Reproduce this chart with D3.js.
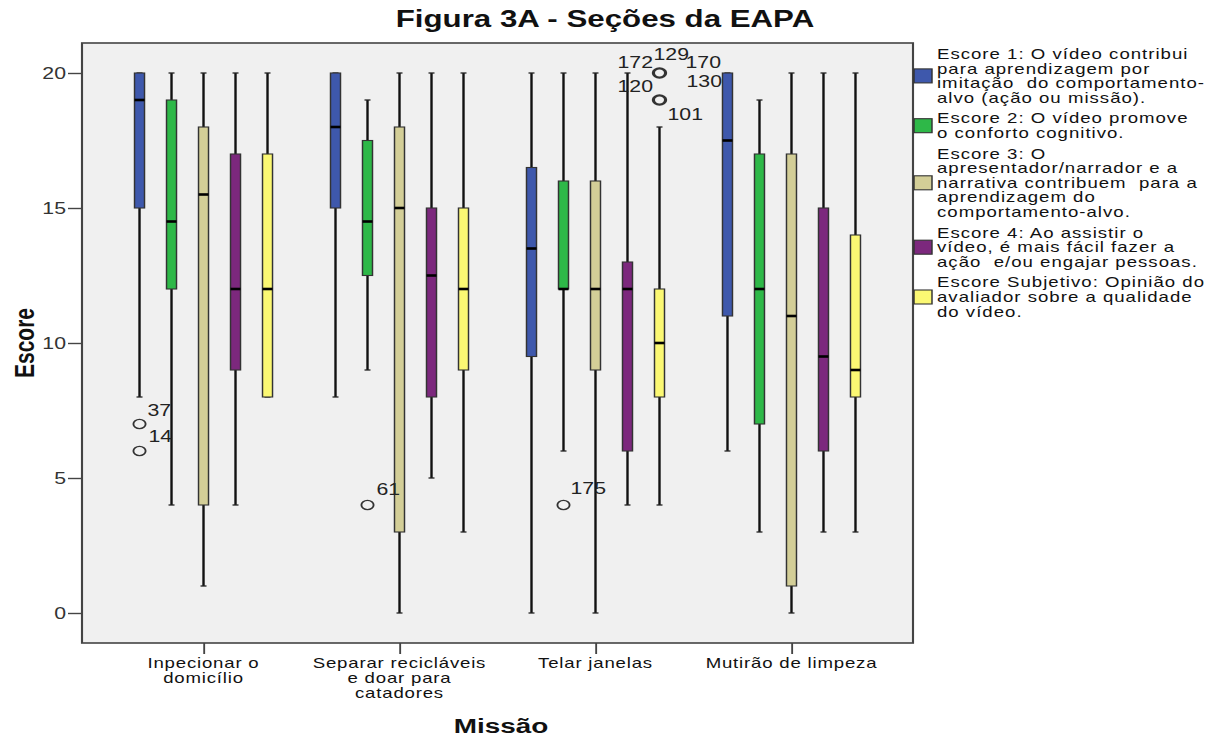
<!DOCTYPE html>
<html><head><meta charset="utf-8">
<script src="https://cdn.jsdelivr.net/npm/d3@7"></script>
<style>
body{margin:0;background:#fff}
text{font-family:Arial,"Liberation Sans",sans-serif;white-space:pre}
</style>
</head><body>
<svg id="c" width="1223" height="740"></svg>
<script>
// ---------- data ----------
const title = "Figura 3A - Seções da EAPA";
const xTitle = "Missão";
const yTitle = "Escore";
const categories = ["Inpecionar o domicílio","Separar recicláveis e doar para catadores","Telar janelas","Mutirão de limpeza"];
const categoryLines = [["Inpecionar o","domicílio"],["Separar recicláveis","e doar para","catadores"],["Telar janelas"],["Mutirão de limpeza"]];
const seriesNames = ["Escore 1","Escore 2","Escore 3","Escore 4","Escore Subjetivo"];
const seriesColors = ["#3E58AC","#2EB848","#D3CE97","#7C287D","#FBF873"];
// [min, Q1, median, Q3, max] per category
const escore1 = [[8,15,19,20,20],[8,15,18,20,20],[0,9.5,13.5,16.5,20],[6,11,17.5,20,20]];
const escore2 = [[4,12,14.5,19,20],[9,12.5,14.5,17.5,19],[6,12,12,16,20],[3,7,12,17,19]];
const escore3 = [[1,4,15.5,18,20],[0,3,15,18,20],[0,9,12,16,20],[0,1,11,17,20]];
const escore4 = [[4,9,12,17,20],[5,8,12.5,15,20],[4,6,12,13,20],[3,6,9.5,15,20]];
const escoreSubj = [[8,8,12,17,20],[3,9,12,15,20],[4,8,10,12,18],[3,8,9,14,20]];
const seriesValues = [escore1,escore2,escore3,escore4,escoreSubj];
const yTicks = [0,5,10,15,20];
// outliers: [category index, series index, value, case labels]
const outliers = [
  [0,0,7,["37"]],
  [0,0,6,["14"]],
  [1,1,4,["61"]],
  [2,1,4,["175"]],
  [2,4,20,["172","129","170","130"]],
  [2,4,19,["120","101"]]
];
const legendLines = [
  ["Escore 1: O vídeo contribui","para aprendizagem por","imitação  do comportamento-","alvo (ação ou missão)."],
  ["Escore 2: O vídeo promove","o conforto cognitivo."],
  ["Escore 3: O","apresentador/narrador e a","narrativa contribuem  para a","aprendizagem do","comportamento-alvo."],
  ["Escore 4: Ao assistir o","vídeo, é mais fácil fazer a","ação  e/ou engajar pessoas."],
  ["Escore Subjetivo: Opinião do","avaliador sobre a qualidade","do vídeo."]
];

// ---------- layout ----------
const S = 1.33; // horizontal stretch of the picture
const L = 82, T = 43, R = 913, B = 643;
// label offsets (image px) relative to outlier marker, keyed by case label
const labelOffsets = {"37":[8,-8],"14":[9,-9],"61":[9,-10],"175":[7,-11],
  "172":[-42,-5],"129":[-6,-13],"170":[26,-5],"130":[27,14],"120":[-42,-8],"101":[8,20]};

const svg = d3.select("#c");
svg.append("rect").attr("width",1223).attr("height",740).attr("fill","#fff");
const g = svg.append("g").attr("transform",`scale(${S},1)`);

const x0 = d3.scalePoint().domain(categories).range([L/S, R/S]).padding(0.62);
const x1 = d3.scalePoint().domain(seriesNames).range([-64/S, 64/S]);
const y = d3.scaleLinear().domain([0,20]).range([613,73]);

// frame
g.append("rect").attr("x",L/S).attr("y",T).attr("width",(R-L)/S).attr("height",B-T)
  .attr("fill","#f0f0f0").attr("stroke","#444").attr("stroke-width",1.6);

// y axis
const ya = g.append("g").attr("transform",`translate(${L/S},0)`)
  .call(d3.axisLeft(y).tickValues(yTicks).tickSize(14/S).tickPadding(2/S).tickFormat(d3.format("d")));
ya.select(".domain").remove();
ya.selectAll(".tick line").attr("stroke","#444").attr("stroke-width",1.4);
ya.selectAll(".tick text").attr("font-size",16).attr("fill","#333").attr("font-family","Arial, 'Liberation Sans', sans-serif");

// x axis
const xa = g.append("g").attr("transform",`translate(0,${B})`)
  .call(d3.axisBottom(x0).tickSize(11).tickFormat(""));
xa.select(".domain").remove();
xa.selectAll(".tick line").attr("stroke","#444").attr("stroke-width",1.4);
categories.forEach((c,i)=>{
  const t = g.append("text").attr("x",x0(c)).attr("y",668).attr("text-anchor","middle")
    .attr("font-size",14).attr("letter-spacing",0.6).attr("fill","#111");
  categoryLines[i].forEach((ln,k)=>{
    t.append("tspan").attr("x",x0(c)).attr("y",668+15*k).text(ln);
  });
});

// boxes
const bw = 10/S, cw = 6/S;
seriesNames.forEach((s,si)=>{
  categories.forEach((c,ci)=>{
    const [mn,q1,md,q3,mx] = seriesValues[si][ci];
    const cx = x0(c)+x1(s);
    const bx = g.append("g");
    bx.append("line").attr("x1",cx).attr("x2",cx).attr("y1",y(mn)).attr("y2",y(q1))
      .attr("stroke","#111").attr("stroke-width",1.8);
    bx.append("line").attr("x1",cx).attr("x2",cx).attr("y1",y(q3)).attr("y2",y(mx))
      .attr("stroke","#111").attr("stroke-width",1.8);
    [mn,mx].forEach(v=>{
      bx.append("line").attr("x1",cx-cw/2).attr("x2",cx+cw/2).attr("y1",y(v)).attr("y2",y(v))
        .attr("stroke","#222").attr("stroke-width",1.3);
    });
    bx.append("rect").attr("x",cx-bw/2).attr("width",bw).attr("y",y(q3)).attr("height",y(q1)-y(q3))
      .attr("fill",seriesColors[si]).attr("stroke","#333").attr("stroke-width",1.1);
    bx.append("line").attr("x1",cx-bw/2).attr("x2",cx+bw/2).attr("y1",y(md)).attr("y2",y(md))
      .attr("stroke","#000").attr("stroke-width",2.6);
  });
});

// outliers
outliers.forEach(([ci,si,v,labels])=>{
  const cx = x0(categories[ci])+x1(seriesNames[si]);
  const cy = y(v);
  g.append("circle").attr("cx",cx).attr("cy",cy).attr("r",4.6)
    .attr("fill","none").attr("stroke","#333").attr("stroke-width",labels.length>1?2.4:1.4);
  labels.forEach(lb=>{
    const [dx,dy] = labelOffsets[lb];
    g.append("text").attr("x",cx+dx/S).attr("y",cy+dy).attr("font-size",16).attr("fill","#222").text(lb);
  });
});

// legend
let base = 59;
legendLines.forEach((lines,i)=>{
  const first = base, last = base + 14.6*(lines.length-1);
  const mid = (first-11+last+3)/2 - 1;
  g.append("rect").attr("x",914/S).attr("y",mid-7).attr("width",18/S).attr("height",14)
    .attr("fill",seriesColors[i]).attr("stroke","#333").attr("stroke-width",1.1);
  lines.forEach((ln,k)=>{
    g.append("text").attr("x",937/S).attr("y",first+14.6*k).attr("font-size",14)
      .attr("letter-spacing",0.75).attr("fill","#111").text(ln);
  });
  base = last + 14.6 + 6;
});

// titles
g.append("text").attr("x",605/S).attr("y",27).attr("text-anchor","middle")
  .attr("font-size",23.5).attr("font-weight","bold").attr("fill","#111").text(title);
g.append("text").attr("x",501/S).attr("y",733).attr("text-anchor","middle")
  .attr("font-size",21).attr("font-weight","bold").attr("fill","#111").text(xTitle);
g.append("text").attr("transform",`translate(${24/S},343) rotate(-90)`).attr("dy","0.36em")
  .attr("text-anchor","middle").attr("font-size",21).attr("font-weight","bold").attr("fill","#111").text(yTitle);
</script>
</body></html>
